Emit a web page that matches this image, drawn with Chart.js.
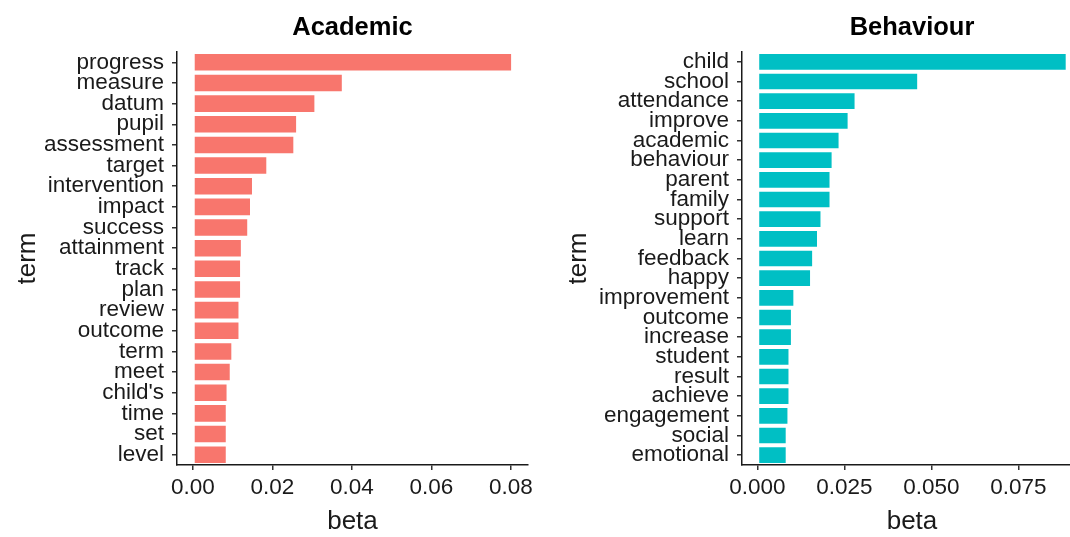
<!DOCTYPE html>
<html>
<head>
<meta charset="utf-8">
<script src="https://cdn.jsdelivr.net/npm/chart.js@4/dist/chart.umd.min.js"></script>
<style>
  html, body { margin: 0; padding: 0; background: #fff; overflow: hidden; }
  #wrap { position: relative; width: 1070px; height: 537px; overflow: hidden; }
  canvas { position: absolute; top: 0; }
  #academic { left: 0; }
  #behaviour { left: 560px; }
</style>
</head>
<body>
<div id="wrap">
  <canvas id="academic" width="560" height="537"></canvas>
  <canvas id="behaviour" width="540" height="537"></canvas>
</div>
<script>
// Datos (beta por término)
const academicTerms = ['progress', 'measure', 'datum', 'pupil', 'assessment', 'target', 'intervention',
  'impact', 'success', 'attainment', 'track', 'plan', 'review', 'outcome', 'term', 'meet',
  "child's", 'time', 'set', 'level'];
const academicBeta = [0.0803, 0.0377, 0.0308, 0.0262, 0.0255, 0.0187, 0.0151,
  0.0146, 0.0139, 0.0123, 0.0121, 0.0121, 0.0117, 0.0117, 0.0099, 0.0095,
  0.0087, 0.0085, 0.0085, 0.0085];

const behaviourTerms = ['child', 'school', 'attendance', 'improve', 'academic', 'behaviour', 'parent',
  'family', 'support', 'learn', 'feedback', 'happy', 'improvement', 'outcome', 'increase',
  'student', 'result', 'achieve', 'engagement', 'social', 'emotional'];
const behaviourBeta = [0.0889, 0.0462, 0.0282, 0.0262, 0.0236, 0.0216, 0.0210,
  0.0210, 0.0184, 0.0174, 0.0160, 0.0154, 0.0106, 0.0099, 0.0099,
  0.0092, 0.0092, 0.0092, 0.0089, 0.0084, 0.0084];

const academicTicks = [0, 0.02, 0.04, 0.06, 0.08];
const behaviourTicks = [0, 0.025, 0.05, 0.075];

const FONT = "'Liberation Sans', Arial, sans-serif";
const INK = '#1a1a1a';

// Título del panel centrado sobre el área del gráfico (como facet de ggplot)
const panelTitle = {
  id: 'panelTitle',
  afterDraw(chart, args, opts) {
    const ctx = chart.ctx;
    const area = chart.chartArea;
    ctx.save();
    ctx.font = 'bold 25.5px ' + FONT;
    ctx.fillStyle = '#000';
    ctx.textAlign = 'center';
    ctx.textBaseline = 'middle';
    ctx.fillText(opts.text, (area.left + area.right) / 2, 28);
    ctx.restore();
  }
};

function crearPanel(canvasId, title, terms, values, color, tickVals, decimals, cfg) {
  const step = tickVals[1] - tickVals[0];
  return new Chart(document.getElementById(canvasId), {
    type: 'bar',
    data: {
      labels: terms,
      datasets: [{
        data: values,
        backgroundColor: color,
        borderColor: 'rgba(255,255,255,0.85)',
        borderWidth: 1,
        borderSkipped: false,
        barPercentage: 0.9,
        categoryPercentage: 1.0
      }]
    },
    options: {
      indexAxis: 'y',
      responsive: false,
      animation: false,
      events: [],
      layout: { padding: { top: 52, bottom: 0, left: cfg.padLeft, right: cfg.padRight } },
      plugins: {
        legend: { display: false },
        tooltip: { enabled: false },
        panelTitle: { text: title }
      },
      scales: {
        x: {
          type: 'linear',
          min: cfg.min,
          max: cfg.max,
          afterFit(scale) { scale.height = 72; },
          afterBuildTicks(scale) {
            scale.ticks = tickVals.map(v => ({ value: v }));
          },
          ticks: {
            stepSize: step,
            includeBounds: false,
            color: INK,
            padding: 4,
            font: { family: FONT, size: 22.5, lineHeight: 1.2 },
            callback: v => Number(v).toFixed(decimals)
          },
          grid: { display: true, drawOnChartArea: false, drawTicks: true, tickLength: 5, color: '#333', lineWidth: 1.5 },
          border: { display: true, color: INK, width: 1.5 },
          title: {
            display: true, text: 'beta', color: INK, padding: 0,
            font: { family: FONT, size: 26, lineHeight: 1.2 }
          }
        },
        y: {
          type: 'category',
          offset: true,
          afterFit(scale) { scale.width = cfg.yWidth; },
          ticks: {
            autoSkip: false,
            color: INK,
            padding: 8,
            font: { family: FONT, size: 22.5, lineHeight: 1.0 }
          },
          grid: { display: true, offset: false, drawOnChartArea: false, drawTicks: true, tickLength: 5, color: '#333', lineWidth: 1.5 },
          border: { display: true, color: INK, width: 1.5 },
          title: {
            display: true, text: 'term', color: INK, padding: 0,
            font: { family: FONT, size: 26, lineHeight: 1.2 }
          }
        }
      }
    },
    plugins: [panelTitle]
  });
}

document.addEventListener('DOMContentLoaded', function () {
  crearPanel('academic', 'Academic', academicTerms, academicBeta, '#F8766D', academicTicks, 2,
    { min: -0.00402, max: 0.0843, padLeft: 12, padRight: 32, yWidth: 165 });
  crearPanel('behaviour', 'Behaviour', behaviourTerms, behaviourBeta, '#00BFC4', behaviourTicks, 3,
    { min: -0.00445, max: 0.0933, padLeft: 3, padRight: 18, yWidth: 179 });
});
</script>
</body>
</html>
